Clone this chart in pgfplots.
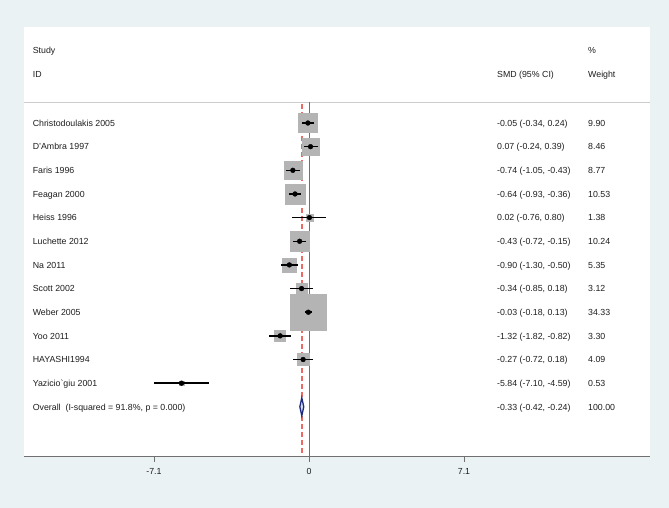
\documentclass[border=0pt]{standalone}
\usepackage{pgfplots}
\pgfplotsset{compat=1.18}
\usepackage{pgfplotstable}
\usepackage{fontspec}
\setmainfont{Liberation Sans}
\definecolor{bgblue}{HTML}{EAF2F4}
\definecolor{boxgray}{HTML}{B4B4B4}
\definecolor{navy}{HTML}{1C2A80}
\definecolor{diafill}{HTML}{D6DDF0}
\definecolor{txt}{HTML}{1E1E1E}
\definecolor{axgray}{HTML}{707070}
\definecolor{nullred}{HTML}{EC6A62}

\pgfplotstableread[col sep=comma]{
r,est,lo,hi,w
1,-0.05,-0.34,0.24,9.90
2,0.07,-0.24,0.39,8.46
3,-0.74,-1.05,-0.43,8.77
4,-0.64,-0.93,-0.36,10.53
5,0.02,-0.76,0.80,1.38
6,-0.43,-0.72,-0.15,10.24
7,-0.90,-1.30,-0.50,5.35
8,-0.34,-0.85,0.18,3.12
9,-0.03,-0.18,0.13,34.33
10,-1.32,-1.82,-0.82,3.30
11,-0.27,-0.72,0.18,4.09
12,-5.84,-7.10,-4.59,0.53
}\studies

\tikzset{lab/.style={anchor=base west, inner sep=0pt, yshift=-3.2pt,
  font=\fontsize{8.8}{10}\selectfont, text=txt}}
\newcommand{\studyrow}[4]{%
  \node[lab] at (axis cs:-12.66,#1) {#2};
  \node[lab] at (axis cs:8.61,#1) {#3};
  \node[lab] at (axis cs:12.78,#1) {#4};}

\begin{document}
\begin{tikzpicture}[x=1pt,y=1pt]
\useasboundingbox (0,0) rectangle (669,508);
\fill[bgblue] (0,0) rectangle (669,508);
\fill[white] (24,52) rectangle (650,481);
\begin{axis}[
  at={(24pt,52pt)}, anchor=south west,
  scale only axis, width=626pt, height=429pt,
  xmin=-13.055, xmax=15.62,
  ymin=-3.06, ymax=15.08, y dir=reverse,
  axis x line*=bottom, axis y line=none,
  x axis line style={axgray, line width=0.9pt},
  xtick={-7.1,0,7.1}, xticklabels={-7.1,0,7.1},
  tick align=outside, major tick length=5.5pt,
  x tick style={axgray, line width=0.8pt},
  xticklabel style={font=\fontsize{8.8}{10}\selectfont, text=txt, yshift=-3pt},
  /pgf/number format/assume math mode=true,
  clip=false, clip marker paths=true,
]
% header rule
\addplot[draw=gray!40, line width=0.8pt] coordinates {(-13.055,0.11) (15.62,0.11)};
% overall effect dashed line
\addplot[draw=nullred, line width=1.4pt, dash pattern=on 4.5pt off 3.5pt] coordinates {(-0.33,0.2) (-0.33,15.08)};
% null line
\addplot[draw=axgray, line width=0.9pt] coordinates {(0,0.11) (0,15.08)};
% weight boxes
\addplot[scatter, only marks, mark=square*,
  scatter/use mapped color={draw=boxgray, fill=boxgray},
  visualization depends on={3.03*sqrt(\thisrow{w})\as\msize},
  scatter/@pre marker code/.append style={/tikz/mark size=\msize, /tikz/line width=0.2pt}]
  table[x=est, y=r] {\studies};
% CIs and point estimates
\addplot[only marks, mark=*, mark size=2.4pt, black,
  error bars/.cd, x dir=both, x explicit, error mark=none,
  error bar style={line width=1.5pt, black}]
  table[x=est, y=r, x error plus expr=\thisrow{hi}-\thisrow{est},
        x error minus expr=\thisrow{est}-\thisrow{lo}] {\studies};
% pooled diamond
\addplot[draw=navy, fill=diafill, line width=1.3pt]
  coordinates {(-0.42,13) (-0.33,12.62) (-0.24,13) (-0.33,13.38)} -- cycle;

\node[lab] at (axis cs:-12.66,-2.06) {Study};
\node[lab] at (axis cs:12.78,-2.06) {\%};
\studyrow{-1.05}{ID}{SMD (95\% CI)}{Weight}
\studyrow{1}{Christodoulakis 2005}{-0.05 (-0.34, 0.24)}{9.90}
\studyrow{2}{D'Ambra 1997}{0.07 (-0.24, 0.39)}{8.46}
\studyrow{3}{Faris 1996}{-0.74 (-1.05, -0.43)}{8.77}
\studyrow{4}{Feagan 2000}{-0.64 (-0.93, -0.36)}{10.53}
\studyrow{5}{Heiss 1996}{0.02 (-0.76, 0.80)}{1.38}
\studyrow{6}{Luchette 2012}{-0.43 (-0.72, -0.15)}{10.24}
\studyrow{7}{Na 2011}{-0.90 (-1.30, -0.50)}{5.35}
\studyrow{8}{Scott 2002}{-0.34 (-0.85, 0.18)}{3.12}
\studyrow{9}{Weber 2005}{-0.03 (-0.18, 0.13)}{34.33}
\studyrow{10}{Yoo 2011}{-1.32 (-1.82, -0.82)}{3.30}
\studyrow{11}{HAYASHI1994}{-0.27 (-0.72, 0.18)}{4.09}
\studyrow{12}{Yazicio\textasciigrave giu 2001}{-5.84 (-7.10, -4.59)}{0.53}
\studyrow{13}{Overall\ \ (I-squared = 91.8\%, p = 0.000)}{-0.33 (-0.42, -0.24)}{100.00}
\end{axis}
\end{tikzpicture}
\end{document}
